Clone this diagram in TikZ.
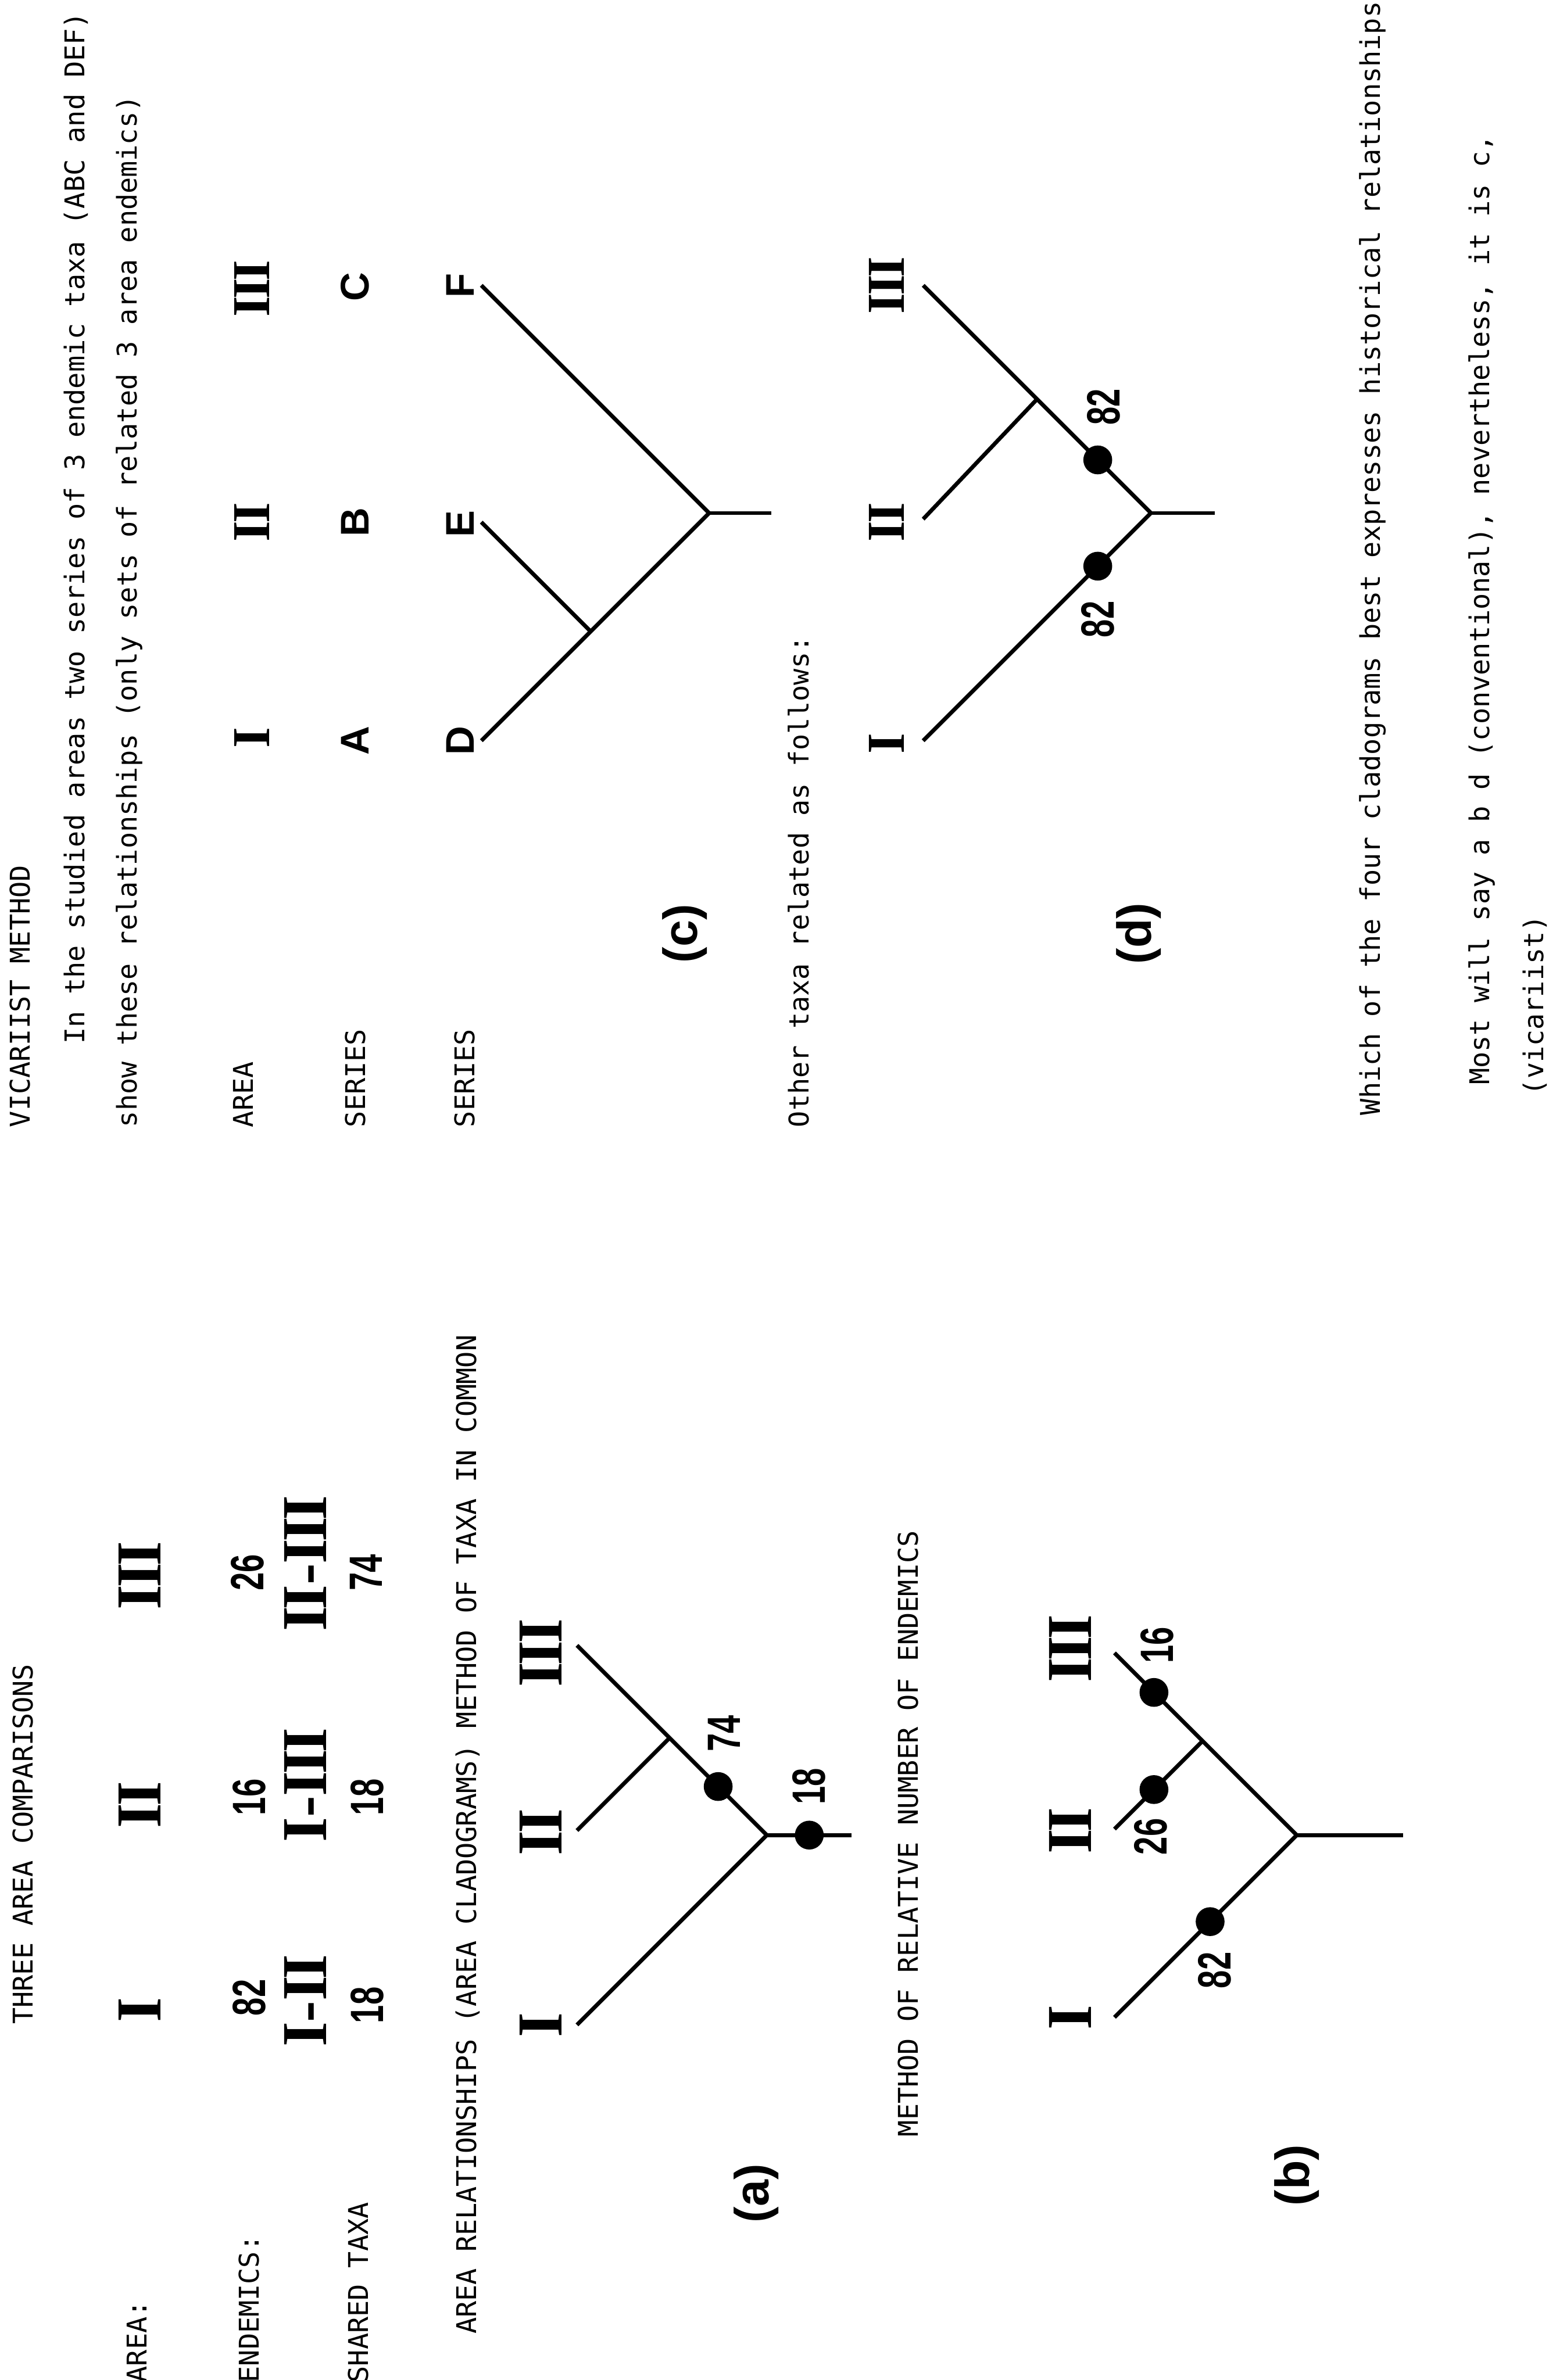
\documentclass[tikz,border=0pt]{standalone}
\usepackage{fontspec}
\setmonofont{DejaVu Sans Mono}
\newfontfamily\serifnum{Liberation Serif}
\newfontfamily\boldsans{Liberation Sans}
\newfontfamily\narrowsans[FakeStretch=0.7]{Liberation Sans}
\usetikzlibrary{positioning}
\newcommand{\rtwo}{I\kern-.05em I}
\newcommand{\rthree}{I\kern-.05em I\kern-.05em I}

\begin{document}
\begin{tikzpicture}[x=0.02cm, y=-0.02cm,
    txt/.style={rotate=90, anchor=west, inner sep=0pt,
                font=\ttfamily\fontsize{10.2}{12}\selectfont},
    arealbl/.style={rotate=90, inner sep=0pt,
                font=\serifnum\bfseries\fontsize{24}{24}\selectfont},
    arealblsm/.style={rotate=90, inner sep=0pt,
                font=\serifnum\bfseries\fontsize{20}{20}\selectfont},
    taxonlbl/.style={rotate=90, inner sep=0pt,
                font=\boldsans\bfseries\fontsize{15}{15}\selectfont},
    countlbl/.style={rotate=90, inner sep=0pt,
                font=\narrowsans\bfseries\fontsize{17.5}{17.5}\selectfont},
    cladetag/.style={rotate=90, inner sep=0pt,
                font=\boldsans\bfseries\fontsize{18}{18}\selectfont},
    cladeline/.style={line width=1.5pt},
    enddot/.style={circle, fill=black, inner sep=0pt, minimum size=0.38cm}
]
    \fill[white] (0,0) rectangle (1020,1568);
    \useasboundingbox (0,0) rectangle (1020,1568);

    % three area comparisons
    \node[txt] (hdrthree) at (15,1334) {THREE AREA COMPARISONS};
    \node[txt] (lblarea) at (90,1570) {AREA:};
    \node[txt] (lblend) at (164,1570) {ENDEMICS:};
    \node[txt] (lblshared) at (236,1570) {SHARED TAXA};

    \node[arealbl] (colI) at (92,1324) {I};
    \node[arealbl] (colII) at (92,1189) {\rtwo};
    \node[arealbl] (colIII) at (92,1038) {\rthree};

    \node[countlbl] (endI) at (164,1316) {82};
    \node[countlbl] (endII) at (164,1184) {16};
    \node[countlbl] (endIII) at (163,1036) {26};

    \node[arealbl] (pairA) at (201,1318) {I-\rtwo};
    \node[arealbl] (pairB) at (201,1176) {I-\rthree};
    \node[arealbl] (pairC) at (201,1030) {\rtwo-\rthree};

    \node[countlbl] (shA) at (242,1321) {18};
    \node[countlbl] (shB) at (242,1184) {18};
    \node[countlbl] (shC) at (241,1036) {74};

    % (a) taxa in common
    \node[txt] (hdrrel) at (308,1538) {AREA RELATIONSHIPS (AREA CLADOGRAMS) METHOD OF TAXA IN COMMON};
    \node[arealbl] (aI) at (356,1334) {I};
    \node[arealbl] (aII) at (356,1207) {\rtwo};
    \node[arealbl] (aIII) at (356,1089) {\rthree};
    \coordinate (atipI) at (380,1334);
    \coordinate (atipII) at (380,1206);
    \coordinate (atipIII) at (380,1084);
    \coordinate (ainner) at (441,1145);
    \coordinate (aroot) at (505,1209);
    \coordinate (astub) at (561,1209);
    \draw[cladeline] (atipI) -- (aroot) -- (atipIII);
    \draw[cladeline] (atipII) -- (ainner);
    \draw[cladeline] (aroot) -- (astub);
    \node[enddot] (adotA) at (473,1177) {};
    \node[enddot] (adotB) at (533,1209) {};
    \node[countlbl] (anumA) at (477,1142) {74};
    \node[countlbl] (anumB) at (533,1177) {18};
    \node[cladetag] (atag) at (498,1445) {(a)};

    % (b) relative number of endemics
    \node[txt] (hdrrelnum) at (598,1408) {METHOD OF RELATIVE NUMBER OF ENDEMICS};
    \node[arealbl] (bI) at (705,1329) {I};
    \node[arealbl] (bII) at (705,1206) {\rtwo};
    \node[arealbl] (bIII) at (705,1086) {\rthree};
    \coordinate (btipI) at (734,1329);
    \coordinate (btipII) at (734,1205);
    \coordinate (btipIII) at (734,1089);
    \coordinate (binner) at (792,1147);
    \coordinate (broot) at (854,1209);
    \coordinate (bstub) at (924,1209);
    \draw[cladeline] (btipI) -- (broot) -- (btipIII);
    \draw[cladeline] (btipII) -- (binner);
    \draw[cladeline] (broot) -- (bstub);
    \node[enddot] (bdotI) at (797,1266) {};
    \node[enddot] (bdotII) at (760,1179) {};
    \node[enddot] (bdotIII) at (760,1115) {};
    \node[countlbl] (bnumI) at (800,1298) {82};
    \node[countlbl] (bnumII) at (758,1210) {26};
    \node[countlbl] (bnumIII) at (762,1084) {16};
    \node[cladetag] (btag) at (854,1433) {(b)};

    % vicariist method
    \node[txt] (hdrvic) at (13,743) {VICARIIST METHOD};
    \node[txt] (lineone) at (50,688) {In the studied areas two series of 3 endemic taxa (ABC and DEF)};
    \node[txt] (linetwo) at (85,743) {show these relationships (only sets of related 3 area endemics)};
    \node[txt] (rowarea) at (160,743) {AREA};
    \node[txt] (rowabc) at (234,743) {SERIES};
    \node[txt] (rowdef) at (306,743) {SERIES};

    \node[arealblsm] (cI) at (166,486) {I};
    \node[arealblsm] (cII) at (166,344) {\rtwo};
    \node[arealblsm] (cIII) at (166,190) {\rthree};
    \node[taxonlbl] (tA) at (234,488) {A};
    \node[taxonlbl] (tB) at (234,344) {B};
    \node[taxonlbl] (tC) at (234,189) {C};
    \node[taxonlbl] (tD) at (303,488) {D};
    \node[taxonlbl] (tE) at (303,345) {E};
    \node[taxonlbl] (tF) at (303,188) {F};

    % (c)
    \coordinate (ctipD) at (317,488);
    \coordinate (ctipE) at (317,344);
    \coordinate (ctipF) at (317,188);
    \coordinate (cinner) at (389,416);
    \coordinate (croot) at (467,338);
    \coordinate (cstub) at (508,338);
    \draw[cladeline] (ctipD) -- (croot) -- (ctipF);
    \draw[cladeline] (ctipE) -- (cinner);
    \draw[cladeline] (croot) -- (cstub);
    \node[cladetag] (ctag) at (451,615) {(c)};

    % (d) other taxa
    \node[txt] (lineother) at (526,743) {Other taxa related as follows:};
    \node[arealblsm] (dI) at (584,490) {I};
    \node[arealblsm] (dII) at (584,344) {\rtwo};
    \node[arealblsm] (dIII) at (584,188) {\rthree};
    \coordinate (dtipI) at (608,488);
    \coordinate (dtipII) at (608,342);
    \coordinate (dtipIII) at (608,188);
    \coordinate (dinner) at (683,263);
    \coordinate (droot) at (758,338);
    \coordinate (dstub) at (800,338);
    \draw[cladeline] (dtipI) -- (droot) -- (dtipIII);
    \draw[cladeline] (dtipII) -- (dinner);
    \draw[cladeline] (droot) -- (dstub);
    \node[enddot] (ddotI) at (723,373) {};
    \node[enddot] (ddotIII) at (723,303) {};
    \node[countlbl] (dnumI) at (723,408) {82};
    \node[countlbl] (dnumIII) at (727,268) {82};
    \node[cladetag] (dtag) at (750,615) {(d)};

    % closing lines
    \node[txt] (lineq) at (904,735) {Which of the four cladograms best expresses historical relationships};
    \node[txt] (lineans) at (976,715) {Most will say a b d (conventional), nevertheless, it is c,};
    \node[txt] (linevic) at (1011,722) {(vicariist)};
\end{tikzpicture}
\end{document}
